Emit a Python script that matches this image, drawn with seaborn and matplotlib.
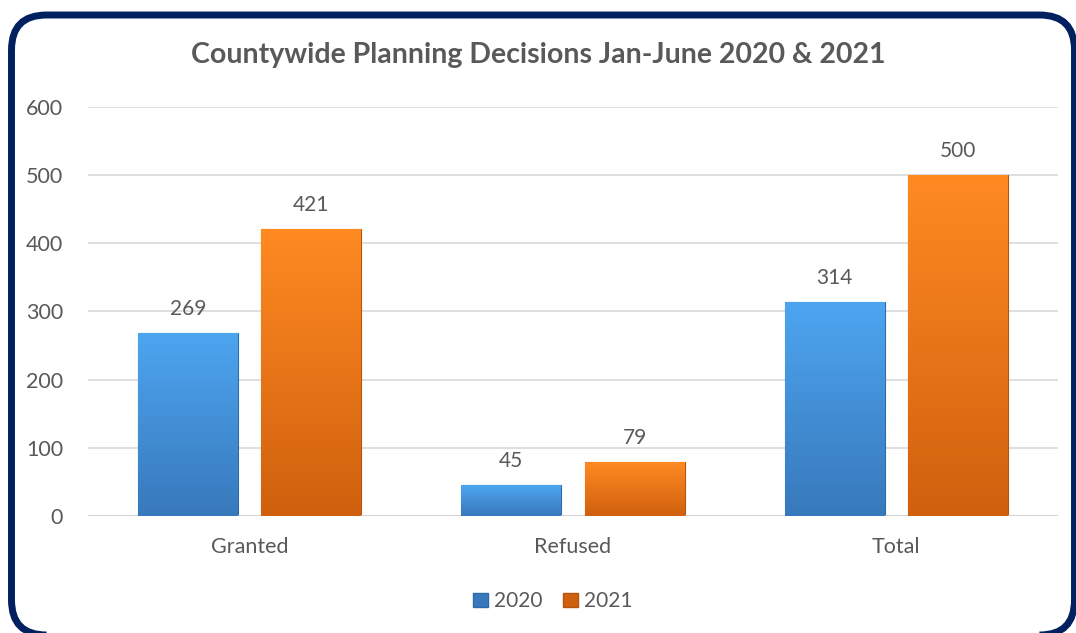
import numpy as np
import pandas as pd
import matplotlib.pyplot as plt
import seaborn as sns
from matplotlib.patches import FancyBboxPatch, Patch
from matplotlib.colors import LinearSegmentedColormap

# -------------------------------
# Data
# -------------------------------
categories = ["Granted", "Refused", "Total"]
years = ["2020", "2021"]
values_2020 = [269, 45, 314]
values_2021 = [421, 79, 500]

df = pd.DataFrame({
    "decision": categories * 2,
    "year": [years[0]] * 3 + [years[1]] * 3,
    "count": values_2020 + values_2021,
})

# gradient colours (top, bottom) per year
grad = {
    "2020": ("#4DA5F0", "#3879BC"),
    "2021": ("#FF8A22", "#D0600E"),
}
edges = {"2020": "#2E6AA8", "2021": "#B5540C"}
text_col = "#595959"

# -------------------------------
# Plot
# -------------------------------
sns.set_theme(style="white")
plt.rcParams["font.family"] = ["Lato", "DejaVu Sans"]

fig = plt.figure(figsize=(10.76, 6.33), dpi=100)
ax = fig.add_axes([0.0818, 0.1848, 0.9015, 0.6462])

sns.barplot(
    data=df, x="decision", y="count", hue="year",
    palette=[grad["2020"][0], grad["2021"][0]],
    width=0.763, gap=0.19, legend=False, ax=ax,
)

ax.set_yticks(range(0, 601, 100))
ax.yaxis.grid(True, color="#D9D9D9", linewidth=1.2)
ax.set_axisbelow(True)
for s in ax.spines.values():
    s.set_visible(False)
ax.axhline(0, color="#D0D0D0", linewidth=1.8, zorder=1)
ax.tick_params(axis="both", length=0, labelsize=15.5, labelcolor=text_col)
ax.tick_params(axis="y", pad=18)
ax.tick_params(axis="x", pad=15)
ax.set_xlabel("")
ax.set_ylabel("")

# gradient fill inside each bar
for container, yr in zip(ax.containers, years):
    cmap = LinearSegmentedColormap.from_list(yr, [grad[yr][1], grad[yr][0]])
    for bar in container:
        x0, y0 = bar.get_x(), bar.get_y()
        w, h = bar.get_width(), bar.get_height()
        bar.set_edgecolor(edges[yr])
        bar.set_linewidth(0.8)
        img = ax.imshow(
            np.linspace(0, 1, 100).reshape(-1, 1), cmap=cmap,
            extent=[x0, x0 + w, y0, y0 + h], origin="lower",
            aspect="auto", zorder=bar.get_zorder() + 0.1,
        )
        img.set_clip_path(bar)
    ax.bar_label(container, padding=10, fontsize=15, color=text_col)

ax.set_xlim(-0.5, 2.5)
ax.set_ylim(0, 600)

fig.text(0.5, 0.913, "Countywide Planning Decisions Jan-June 2020 & 2021",
         ha="center", va="center", fontsize=20.5, fontweight="bold", color=text_col)

handles = [Patch(facecolor=grad[y][1], edgecolor=edges[y], label=y) for y in years]
fig.legend(handles=handles, loc="center", bbox_to_anchor=(0.514, 0.05), ncol=2,
           frameon=False, fontsize=15, labelcolor=text_col, handlelength=0.7,
           handleheight=0.7, handletextpad=0.3, columnspacing=1.0)

# rounded navy frame
frame = FancyBboxPatch((0.115, -0.02), 10.63, 6.2, boxstyle="round,pad=0,rounding_size=0.35",
                       transform=fig.dpi_scale_trans, facecolor="none",
                       edgecolor="#002060", linewidth=5, clip_on=False)
fig.patches.append(frame)

fig.savefig("out.png", dpi=100)
